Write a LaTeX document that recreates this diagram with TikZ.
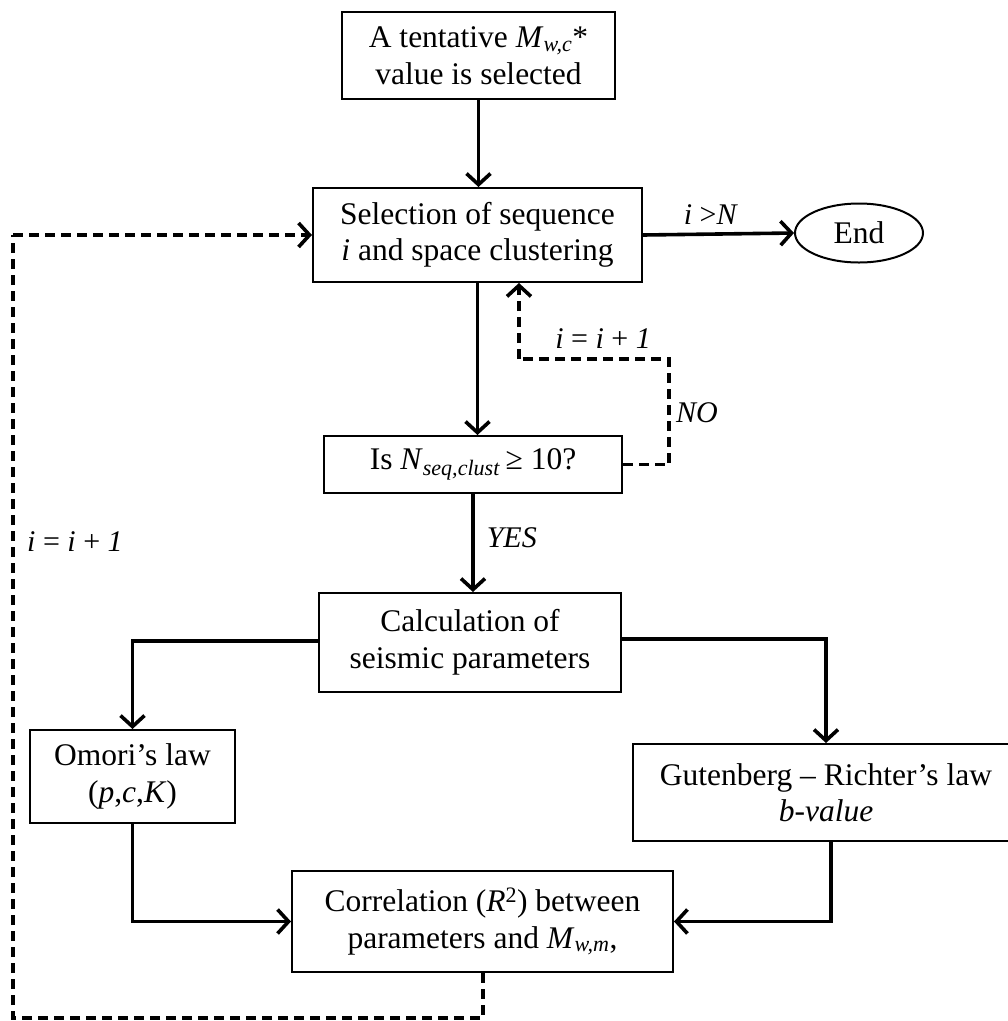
\documentclass[tikz,border=0pt]{standalone}
\usepackage{fontspec}
\setmainfont{Liberation Serif}
\usetikzlibrary{arrows.meta,shapes.geometric}
\tikzset{
  box/.style={draw, line width=2pt, rectangle, align=center, inner sep=0pt,
    font=\fontsize{31.5}{36.5}\selectfont},
  oval/.style={draw, line width=2pt, ellipse, inner sep=0pt,
    font=\fontsize{31.5}{36.5}\selectfont},
  tip/.style={-{Straight Barb[length=11pt,width=24pt,line width=3.6pt]}},
  arr/.style={line width=3.6pt, tip},
  conn/.style={line width=3.6pt},
  darr/.style={line width=3.6pt, dash pattern=on 10pt off 6pt, tip},
  dconn/.style={line width=3.6pt, dash pattern=on 10pt off 6pt},
  lbl/.style={inner sep=0pt, font=\fontsize{30}{34}\selectfont},
}
\begin{document}
\begin{tikzpicture}[x=1pt,y=-1pt]
\useasboundingbox (0,0) rectangle (1008,1021);
\node[box, minimum width=273pt, minimum height=87pt] (top) at (478.5,55.5)
  {A tentative \textit{M}\textsubscript{\textit{w,c}}*\\value is selected};
\node[box, minimum width=329pt, minimum height=94pt] (sel) at (477.5,235)
  {Selection of sequence\\\textit{i} and space clustering};
\node[oval, minimum width=128pt, minimum height=59pt] (end) at (859,233) {End};
\node[box, minimum width=298pt, minimum height=57pt] (isn) at (473,464.5)
  {Is \textit{N}\textsubscript{\textit{seq,clust}}\,≥ 10?};
\node[box, minimum width=302pt, minimum height=99pt] (calc) at (470,642.5)
  {Calculation of\\seismic parameters};
\node[box, minimum width=205pt, minimum height=93pt] (omori) at (132.5,776.5)
  {Omori’s law\\(\textit{p},\textit{c},\textit{K})};
\node[box, minimum width=386pt, minimum height=97pt] (gut) at (826,792.5)
  {Gutenberg – Richter’s law\\\textit{b-value}};
\node[box, minimum width=381pt, minimum height=101pt] (corr) at (482.5,921.5)
  {Correlation (\textit{R}\textsuperscript{2}) between\\parameters and \textit{M}\textsubscript{\textit{w,m}},};

% main flow
\draw[arr] (top.south) -- (top.south |- sel.north);
\draw[arr] (sel.east) -- node[lbl, above=8pt, pos=0.45] {\textit{i} >\textit{N}} (end.west);
\draw[arr] (sel.south) -- (sel.south |- isn.north);
\draw[arr] (isn.south) -- node[lbl, right=12pt, pos=0.45] {\textit{YES}} (isn.south |- calc.north);

% NO loop
\coordinate (n1) at (669,464.5);
\coordinate (n2) at (669,359);
\coordinate (n3) at (519,359);
\draw[dconn] (isn.east) -- (n1) -- (n2) -- (n3);
\draw[darr] (n3) -- (n3 |- sel.south);
\node[lbl] (lbl1) at (603,339) {\textit{i} = \textit{i} + \textit{1}};
\node[lbl, anchor=west] (lblno) at (676,413) {\textit{NO}};

% branches
\draw[arr] (calc.west |- 0,641) -| (omori.north);
\draw[arr] (calc.east |- 0,639) -| (gut.north);
\draw[arr] (omori.south) |- (corr.west);
\draw[arr] ([xshift=5pt]gut.south) |- (corr.east);

% outer loop
\coordinate (o1) at (483,1018);
\coordinate (o2) at (13,1018);
\coordinate (o3) at (13,235);
\draw[dconn] (corr.south -| o1) -- (o1) -- (o2) -- (o3);
\draw[darr] (o3) -- (sel.west);
\node[lbl, anchor=west] (lbl2) at (27,542) {\textit{i} = \textit{i} + \textit{1}};
\end{tikzpicture}
\end{document}
